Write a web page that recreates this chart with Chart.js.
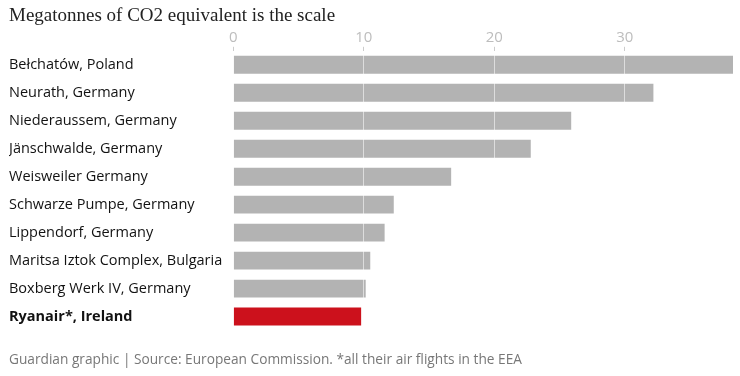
<!DOCTYPE html>
<html>
<head>
<meta charset="utf-8">
<script src="https://cdn.jsdelivr.net/npm/chart.js@4"></script>
<style>
  html, body { margin: 0; padding: 0; background: #fff; }
  #wrap { width: 740px; height: 376px; }
</style>
</head>
<body>
<div id="wrap"><canvas id="chart"></canvas></div>
<script>
const categories = [
    'Bełchatów, Poland',
    'Neurath, Germany',
    'Niederaussem, Germany',
    'Jänschwalde, Germany',
    'Weisweiler Germany',
    'Schwarze Pumpe, Germany',
    'Lippendorf, Germany',
    'Maritsa Iztok Complex, Bulgaria',
    'Boxberg Werk IV, Germany',
    'Ryanair*, Ireland'
];
const emissions = [38.3, 32.2, 25.9, 22.8, 16.7, 12.3, 11.6, 10.5, 10.15, 9.8];
const tickValues = [0, 10, 20, 30];
const highlight = 'Ryanair*, Ireland';

const barColors = categories.map(c => c === highlight ? '#cc111c' : '#b3b3b3');

const ctx = document.getElementById('chart').getContext('2d');

new Chart(ctx, {
    type: 'bar',
    data: {
        labels: categories,
        datasets: [{
            data: emissions,
            backgroundColor: barColors,
            borderWidth: 0,
            barPercentage: 0.64,
            categoryPercentage: 1
        }]
    },
    options: {
        indexAxis: 'y',
        responsive: true,
        maintainAspectRatio: false,
        animation: false,
        layout: {
            padding: { left: 9, right: 7, top: 5, bottom: 8 }
        },
        scales: {
            x: {
                position: 'top',
                min: 0,
                max: 38.3,
                afterBuildTicks: axis => {
                    axis.ticks = tickValues.map(v => ({ value: v }));
                },
                border: { display: false },
                grid: {
                    z: 1,
                    color: 'rgba(255,255,255,0.55)',
                    tickColor: '#cccccc',
                    tickLength: 4,
                    lineWidth: 1
                },
                ticks: {
                    padding: 2,
                    color: '#bdbdbd',
                    font: { family: 'Open Sans', size: 15, lineHeight: 1 }
                }
            },
            y: {
                border: { display: false },
                grid: { display: false, drawTicks: false },
                ticks: {
                    crossAlign: 'far',
                    padding: 5.5,
                    color: '#121212',
                    font: c => ({
                        family: 'Open Sans',
                        size: 14.5,
                        weight: categories[c.index] === highlight ? 'bold' : 'normal'
                    })
                }
            }
        },
        plugins: {
            legend: { display: false },
            tooltip: { enabled: false },
            title: {
                display: true,
                text: 'Megatonnes of CO2 equivalent is the scale',
                align: 'start',
                color: '#222222',
                font: { family: 'Liberation Serif', size: 19, weight: 'normal' },
                padding: { top: 0, bottom: 0 }
            },
            subtitle: {
                display: true,
                position: 'bottom',
                text: 'Guardian graphic | Source: European Commission. *all their air flights in the EEA',
                align: 'start',
                color: '#777777',
                font: { family: 'Open Sans', size: 13.7 },
                padding: { top: 21, bottom: 0 }
            }
        }
    }
});
</script>
</body>
</html>
